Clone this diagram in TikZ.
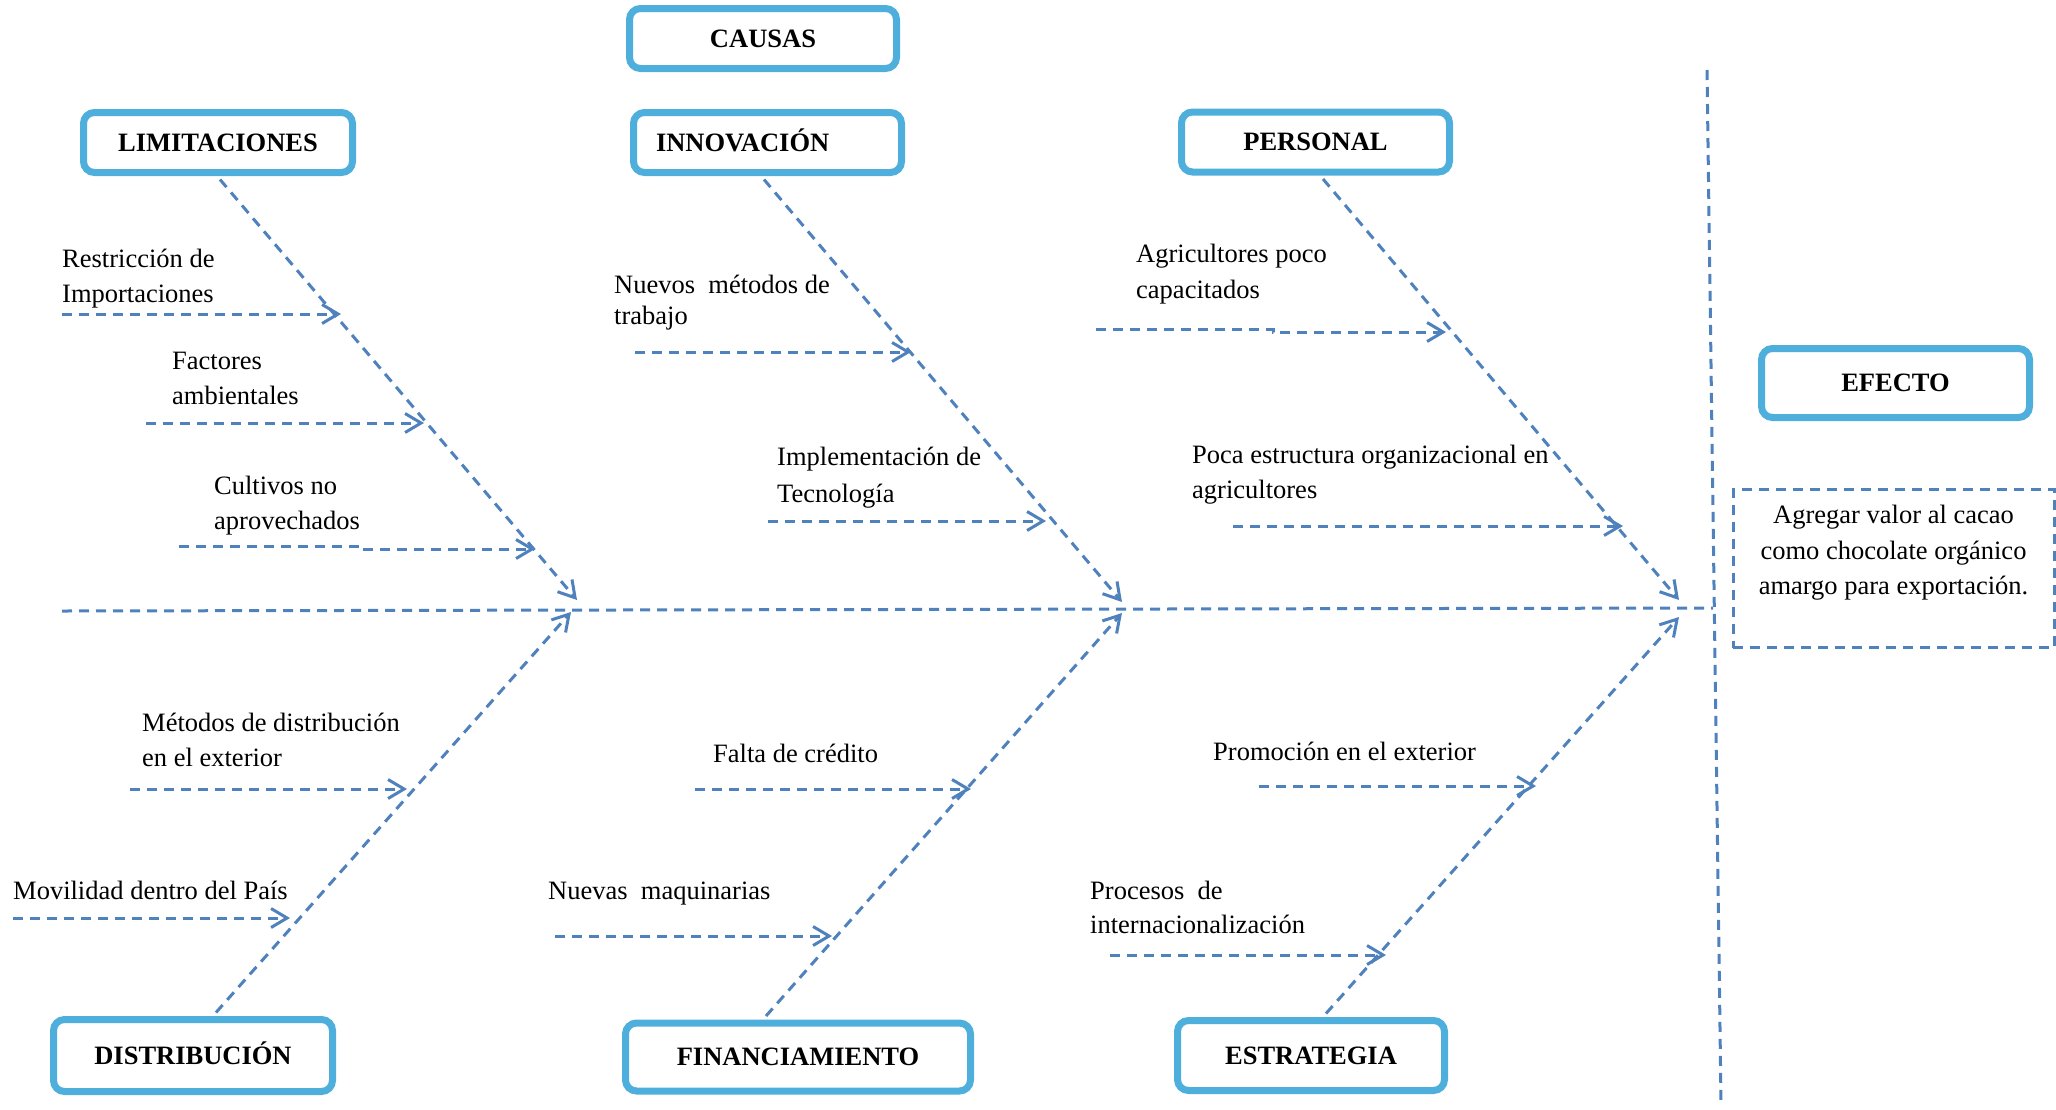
\documentclass[tikz,border=0pt]{standalone}
\usepackage{fontspec}
\setmainfont{Liberation Serif}
\usetikzlibrary{arrows.meta}
\definecolor{boxblue}{RGB}{78,174,220}
\definecolor{lineblue}{RGB}{79,129,189}
\begin{document}
\begin{tikzpicture}[x=1pt,y=-1pt,
 cbox/.style={draw=boxblue, line width=7pt, rounded corners=11pt, fill=white, inner sep=0pt,
   text height=17.5pt, text depth=0pt, font=\fontsize{26.5}{32}\selectfont\bfseries},
 bone/.style={draw=lineblue, line width=3pt, dash pattern=on 10pt off 7pt},
 arr/.style={bone, -{Straight Barb[length=16pt,width=19pt]}},
 lab/.style={anchor=north west, inner sep=0pt, align=left, font=\fontsize{26.5}{35}\selectfont},
 effbox/.style={draw=lineblue, line width=3pt, dash pattern=on 10pt off 7pt, inner sep=0pt,
   minimum width=321pt, align=center, anchor=north, font=\fontsize{26.5}{35.5}\selectfont}]

\useasboundingbox (0,0) rectangle (2056,1109);

% ---------- boxes ----------
\node[cbox, minimum width=267pt, minimum height=60pt] (CAU) at (763,38.5) {CAUSAS};
\node[cbox, minimum width=269pt, minimum height=60pt] (LIM) at (218,142.5) {LIMITACIONES};
\node[cbox, minimum width=268pt, minimum height=60pt, text width=223pt, inner xsep=22.5pt, align=left] (INN) at (767.5,142.5) {INNOVACIÓN};
\node[cbox, minimum width=268pt, minimum height=60pt] (PER) at (1315.5,142) {PERSONAL};
\node[cbox, minimum width=268pt, minimum height=69pt] (EFE) at (1895.5,383) {EFECTO};
\node[cbox, minimum width=279pt, minimum height=72pt] (DIS) at (193,1055.5) {DISTRIBUCIÓN};
\node[cbox, minimum width=345pt, minimum height=68pt] (FIN) at (798,1057) {FINANCIAMIENTO};
\node[cbox, minimum width=267pt, minimum height=70pt] (EST) at (1311,1055.5) {ESTRATEGIA};

% ---------- effect text ----------
\node[effbox] (EFT) at (1893.5,487.5) {\rule{0pt}{34.5pt}Agregar valor al cacao\\como chocolate orgánico\\amargo para exportación.\rule[-53pt]{0pt}{53pt}};

% ---------- spine and vertical line ----------
\coordinate (spL) at (62,611);
\coordinate (spR) at (1713,608);
\coordinate (vT) at (1707,70);
\coordinate (vB) at (1721,1102);
\draw[bone] (spL) -- (spR);
\draw[bone] (vT) -- (vB);

% ---------- main bones ----------
\coordinate (Lt) at (577,600);
\coordinate (It) at (1122,602);
\coordinate (Pt) at (1679,600);
\coordinate (Dt) at (571,612);
\coordinate (Ft) at (1122,613);
\coordinate (Et) at (1679,617);
\draw[arr] ([xshift=2pt,yshift=-3.5pt]LIM.south) -- (Lt);
\draw[arr] ([xshift=-3.5pt,yshift=-3.5pt]INN.south) -- (It);
\draw[arr] ([xshift=7.5pt,yshift=-3.5pt]PER.south) -- (Pt);
\draw[arr] ([xshift=23pt,yshift=3.5pt]DIS.north) -- (Dt);
\draw[arr] ([xshift=-32pt,yshift=3.5pt]FIN.north) -- (Ft);
\draw[arr] ([xshift=15pt,yshift=3.5pt]EST.north) -- (Et);

% ---------- labels ----------
\node[lab] (t1) at (62,242.5) {\strut Restricción de\\Importaciones};
\node[lab] (t2) at (172,345) {\strut Factores\\ambientales};
\node[lab] (t3) at (214,470) {\strut Cultivos no\\aprovechados};
\node[lab, font=\fontsize{26.5}{31.5}\selectfont] (t4) at (614,271) {\strut Nuevos\ \ métodos de\\trabajo};
\node[lab, font=\fontsize{26.5}{37}\selectfont] (t5) at (777,439.5) {\strut Implementación de\\Tecnología};
\node[lab, font=\fontsize{26.5}{36}\selectfont] (t6) at (1136,237.5) {\strut Agricultores poco\\capacitados};
\node[lab] (t7) at (1192,438.5) {\strut Poca estructura organizacional en\\agricultores};
\node[lab] (t8) at (142,706.5) {\strut Métodos de distribución\\en el exterior};
\node[lab] (t9) at (13,875) {\strut Movilidad dentro del País};
\node[lab] (t10) at (713,737.5) {\strut Falta de crédito};
\node[lab] (t11) at (548,875) {\strut Nuevas\ \ maquinarias};
\node[lab] (t12) at (1213,735.5) {\strut Promoción en el exterior};
\node[lab, font=\fontsize{26.5}{34.5}\selectfont] (t13) at (1090,875) {\strut Procesos\ \ de\\internacionalización};

% ---------- sub-bones ----------
\coordinate (a1s) at (62,314);   \coordinate (a1e) at (341,314);
\coordinate (a2s) at (146,423);  \coordinate (a2e) at (424,423);
\coordinate (a3s) at (179,546);  \coordinate (a3m) at (360,546); \coordinate (a3n) at (360,549); \coordinate (a3e) at (535,549);
\coordinate (a4s) at (635,352);  \coordinate (a4e) at (911,352);
\coordinate (a5s) at (768,521);  \coordinate (a5e) at (1046,521);
\coordinate (a6s) at (1096,329); \coordinate (a6m) at (1273,329); \coordinate (a6n) at (1273,332); \coordinate (a6e) at (1446,332);
\coordinate (a7s) at (1233,526); \coordinate (a7e) at (1623,526);
\coordinate (a8s) at (130,789);  \coordinate (a8e) at (407,789);
\coordinate (a9s) at (13,918);   \coordinate (a9e) at (290,918);
\coordinate (a10s) at (695,789); \coordinate (a10e) at (971,789);
\coordinate (a11s) at (555,936); \coordinate (a11e) at (832,936);
\coordinate (a12s) at (1259,786); \coordinate (a12e) at (1536,786);
\coordinate (a13s) at (1110,955); \coordinate (a13e) at (1386,955);

\draw[arr] (a1s) -- (a1e);
\draw[arr] (a2s) -- (a2e);
\draw[arr] (a3s) -- (a3m) -- (a3n) -- (a3e);
\draw[arr] (a4s) -- (a4e);
\draw[arr] (a5s) -- (a5e);
\draw[arr] (a6s) -- (a6m) -- (a6n) -- (a6e);
\draw[arr] (a7s) -- (a7e);
\draw[arr] (a8s) -- (a8e);
\draw[arr] (a9s) -- (a9e);
\draw[arr] (a10s) -- (a10e);
\draw[arr] (a11s) -- (a11e);
\draw[arr] (a12s) -- (a12e);
\draw[arr] (a13s) -- (a13e);
\end{tikzpicture}
\end{document}
